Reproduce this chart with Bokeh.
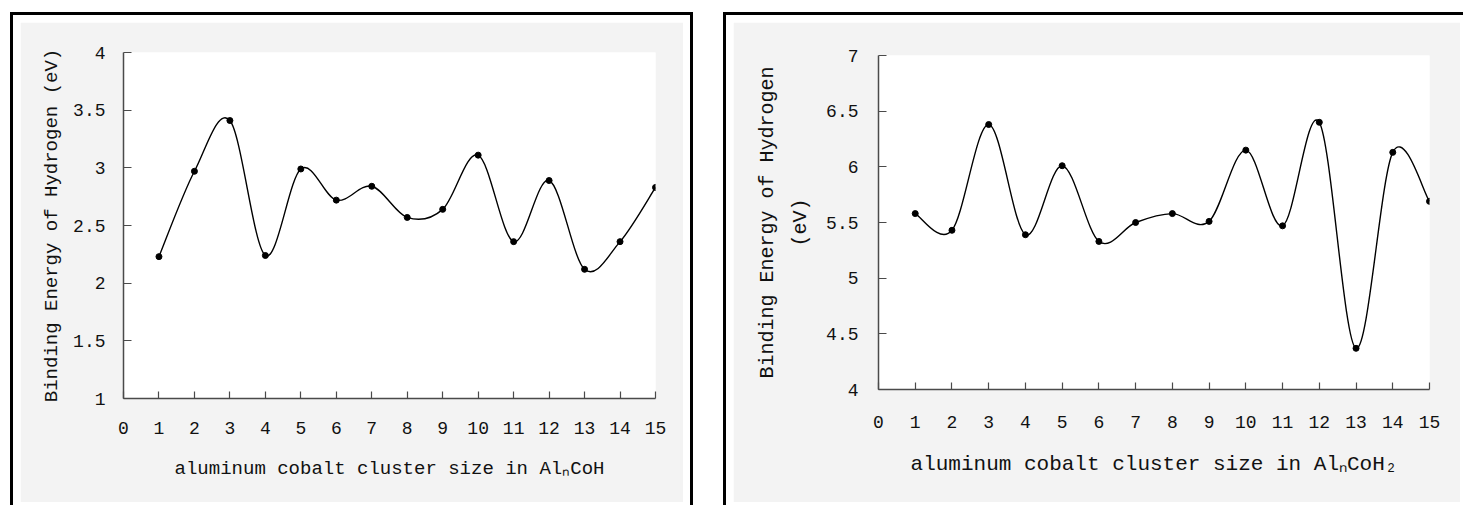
from bokeh.plotting import figure
from bokeh.models import Range1d, FixedTicker, ColumnDataSource
from bokeh.embed import file_html
from bokeh.resources import INLINE

# ---------------- data ----------------
cluster_size = [1, 2, 3, 4, 5, 6, 7, 8, 9, 10, 11, 12, 13, 14, 15]
be_alncoh = [2.23, 2.97, 3.41, 2.24, 2.99, 2.72, 2.84, 2.57, 2.64, 3.11, 2.36, 2.89, 2.12, 2.36, 2.83]
be_alncoh2 = [5.58, 5.43, 6.38, 5.39, 6.01, 5.33, 5.50, 5.58, 5.51, 6.15, 5.47, 6.40, 4.37, 6.13, 5.69]

x_ticks = list(range(0, 16))
y_ticks_left = [1, 1.5, 2, 2.5, 3, 3.5, 4]
y_ticks_right = [4, 4.5, 5, 5.5, 6, 6.5, 7]

y_title_left = "Binding Energy of Hydrogen (eV)"
y_title_right = "Binding Energy of Hydrogen\n(eV)"
x_title_left = "aluminum cobalt cluster size in Al\u2099CoH"
x_title_right = "aluminum cobalt cluster size in Al\u2099CoH\u2082"

MONO = "Liberation Mono"
PANEL_BG = "#f3f3f3"
AXIS_COLOR = "#4a4a4a"
TEXT_COLOR = "#111111"


def smooth_segments(xs, ys):
    """Bezier control points for a smoothed line through the data (Catmull-Rom style)."""
    n = len(xs)
    out = dict(x0=[], y0=[], x1=[], y1=[], cx0=[], cy0=[], cx1=[], cy1=[])
    for i in range(n - 1):
        xp, yp = (xs[i - 1], ys[i - 1]) if i > 0 else (xs[i], ys[i])
        xn, yn = (xs[i + 2], ys[i + 2]) if i + 2 < n else (xs[i + 1], ys[i + 1])
        out["x0"].append(xs[i]); out["y0"].append(ys[i])
        out["x1"].append(xs[i + 1]); out["y1"].append(ys[i + 1])
        out["cx0"].append(xs[i] + (xs[i + 1] - xp) / 6.0)
        out["cy0"].append(ys[i] + (ys[i + 1] - yp) / 6.0)
        out["cx1"].append(xs[i + 1] - (xn - xs[i]) / 6.0)
        out["cy1"].append(ys[i + 1] - (yn - ys[i]) / 6.0)
    return out


def make_panel(left_px, top_px, width, height, b_left, b_top, b_right, b_bottom,
               y_lo, y_hi, y_ticks, ys, x_std, y_std,
               x_label, y_label, x_lab_size, y_lab_size, x_lab_std, y_lab_std, y_line_h):
    p = figure(width=width, height=height, output_backend="svg", toolbar_location=None,
               x_range=Range1d(0, 15), y_range=Range1d(y_lo, y_hi),
               min_border_left=b_left, min_border_top=b_top,
               min_border_right=b_right, min_border_bottom=b_bottom,
               background_fill_color="white", border_fill_color=PANEL_BG,
               outline_line_color=None)
    p.styles = {"position": "absolute", "left": f"{left_px}px", "top": f"{top_px}px",
                "outline": "3px solid black", "outline-offset": "7px"}
    p.xgrid.visible = False
    p.ygrid.visible = False

    p.xaxis.ticker = FixedTicker(ticks=x_ticks)
    p.yaxis.ticker = FixedTicker(ticks=y_ticks)
    p.yaxis.major_label_overrides = {t: f"{t:g}" for t in y_ticks}
    for ax in (p.xaxis, p.yaxis):
        ax.axis_line_color = AXIS_COLOR
        ax.axis_line_width = 1.5
        ax.major_tick_line_color = AXIS_COLOR
        ax.major_tick_line_width = 1.2
        ax.minor_tick_line_color = None
        ax.major_tick_out = 0
        ax.major_label_text_font = MONO
        ax.major_label_text_font_size = "18px"
        ax.major_label_text_color = TEXT_COLOR
        ax.axis_label_text_font = MONO
        ax.axis_label_text_font_style = "normal"
        ax.axis_label_text_color = TEXT_COLOR
    p.xaxis.major_tick_in = 7
    p.yaxis.major_tick_in = 8
    p.xaxis.major_label_standoff = x_std
    p.yaxis.major_label_standoff = y_std

    p.xaxis.axis_label = x_label
    p.xaxis.axis_label_text_font_size = f"{x_lab_size}px"
    p.xaxis.axis_label_standoff = x_lab_std
    p.yaxis.axis_label = y_label
    p.yaxis.axis_label_text_font_size = f"{y_lab_size}px"
    p.yaxis.axis_label_standoff = y_lab_std
    p.yaxis.axis_label_text_line_height = y_line_h

    seg = ColumnDataSource(smooth_segments(cluster_size, ys))
    p.bezier(x0="x0", y0="y0", x1="x1", y1="y1", cx0="cx0", cy0="cy0", cx1="cx1", cy1="cy1",
             source=seg, line_color="black", line_width=1.4)
    p.scatter(cluster_size, ys, size=6, color="black")
    return p


# ---------------- left panel ----------------
left = make_panel(20, 22, 663, 480, 103, 30, 28, 104, 1, 4, y_ticks_left, be_alncoh,
                  x_std=23, y_std=18, x_label=x_title_left, y_label=y_title_left,
                  x_lab_size=19, y_lab_size=19, x_lab_std=21, y_lab_std=7, y_line_h=1.2)

# ---------------- right panel ----------------
right = make_panel(733, 22, 727, 480, 145, 33, 31, 113, 4, 7, y_ticks_right, be_alncoh2,
                   x_std=26, y_std=20, x_label=x_title_right, y_label=y_title_right,
                   x_lab_size=21, y_lab_size=20, x_lab_std=22, y_lab_std=11, y_line_h=1.45)

open("out.html", "w").write(file_html([left, right], INLINE))
